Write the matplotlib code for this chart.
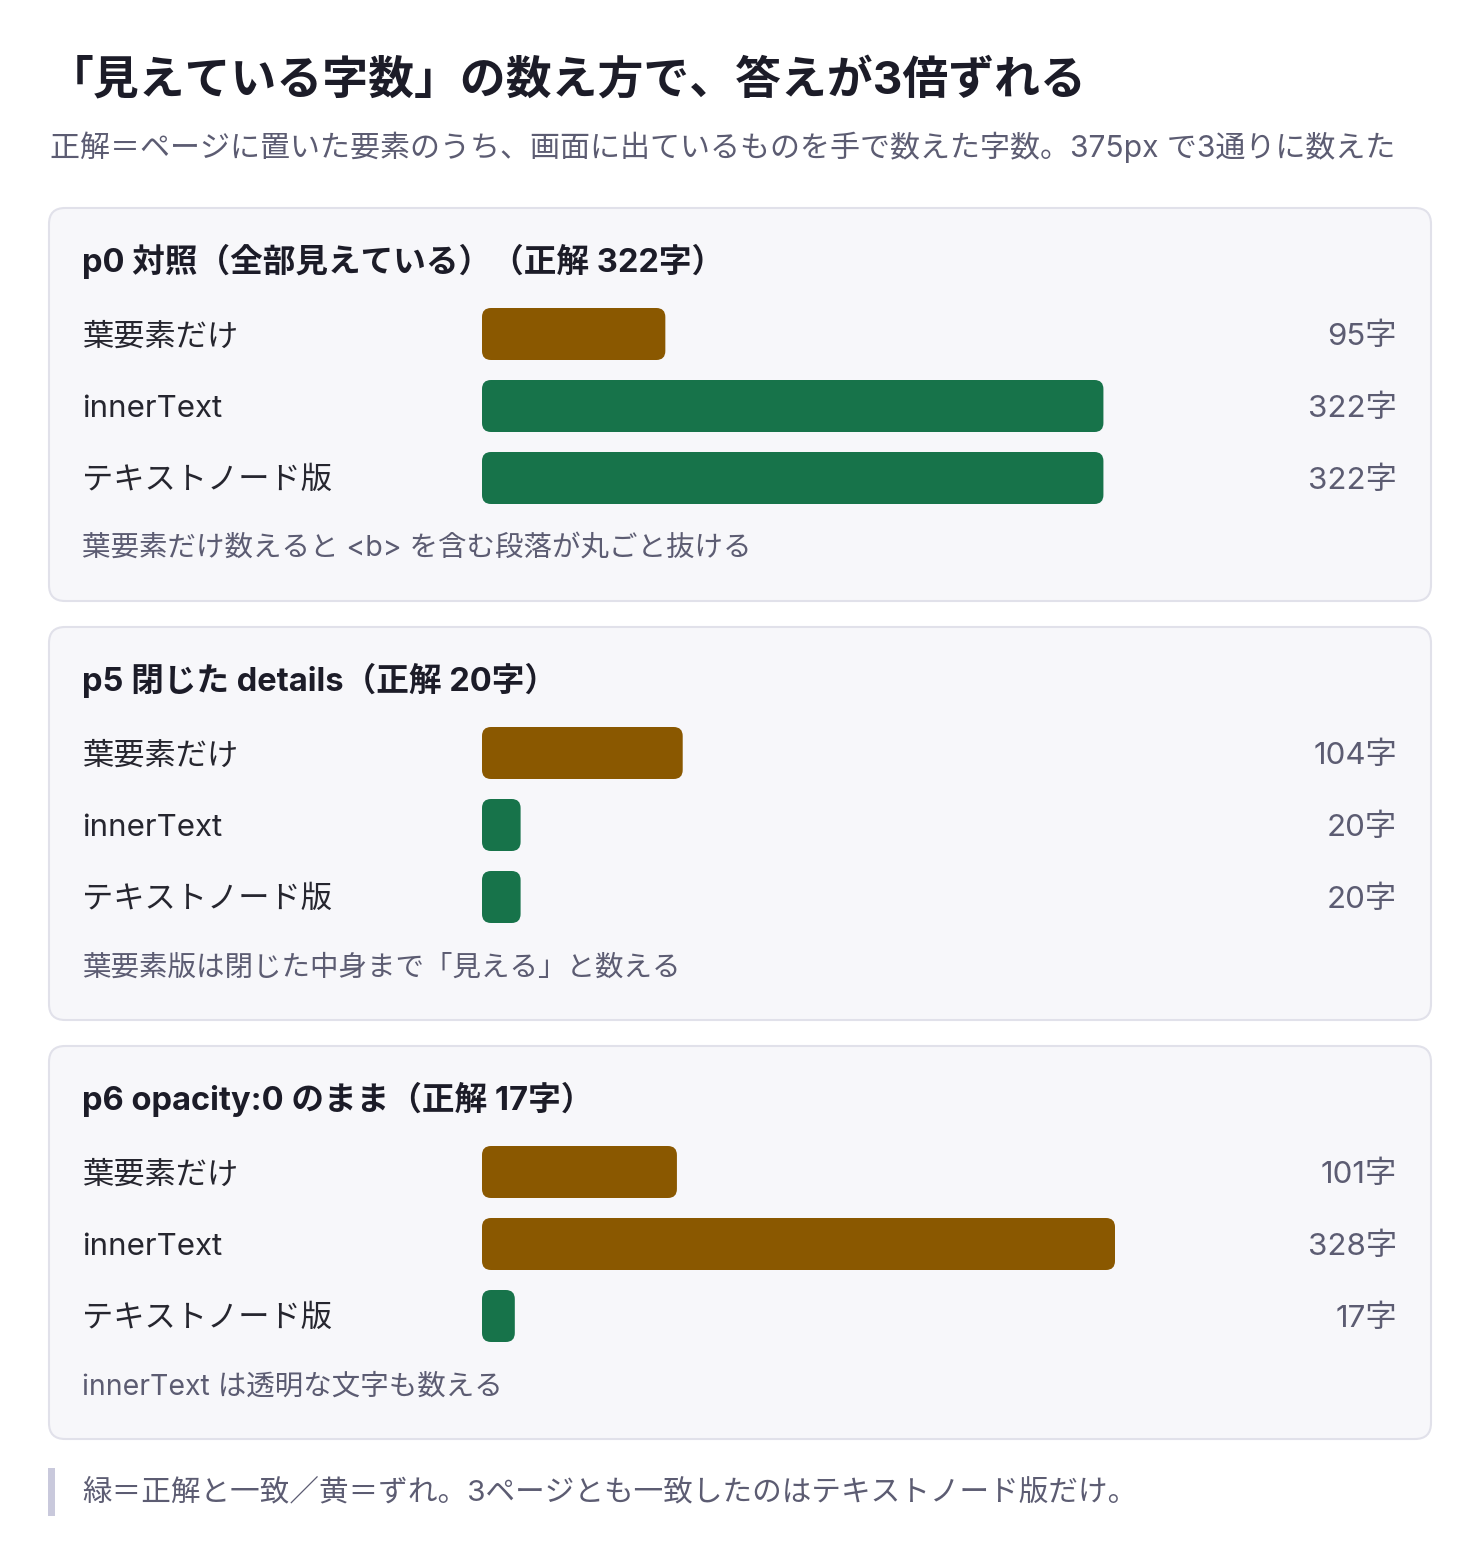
import matplotlib.pyplot as plt
from matplotlib.patches import FancyBboxPatch, Rectangle

plt.rcParams['font.family'] = ['Inter', 'Noto Sans CJK JP', 'DejaVu Sans']

TITLE = '「見えている字数」の数え方で、答えが3倍ずれる'
SUBTITLE = '正解＝ページに置いた要素のうち、画面に出ているものを手で数えた字数。375px で3通りに数えた'
FOOTER = '緑＝正解と一致／黄＝ずれ。3ページとも一致したのはテキストノード版だけ。'

panel_titles = ['p0 対照（全部見えている）（正解 322字）',
                'p5 閉じた details（正解 20字）',
                'p6 opacity:0 のまま（正解 17字）']
methods = ['葉要素だけ', 'innerText', 'テキストノード版']
truth = [322, 20, 17]
counts_p0 = [95, 322, 322]
counts_p5 = [104, 20, 20]
counts_p6 = [101, 328, 17]
notes = ['葉要素だけ数えると <b> を含む段落が丸ごと抜ける',
         '葉要素版は閉じた中身まで「見える」と数える',
         'innerText は透明な文字も数える']

GREEN = '#17734a'
BROWN = '#8a5800'
DARK = '#1c1c28'
GRAY = '#5c5c72'

W, H = 1480, 1564
fig = plt.figure(figsize=(W / 100, H / 100), dpi=100)
fig.patch.set_facecolor('white')
ax = fig.add_axes([0, 0, 1, 1])
ax.set_xlim(0, W)
ax.set_ylim(H, 0)
ax.axis('off')

DY = 3  # small downward nudge so glyphs sit on the row centres

ax.text(48, 78 + DY, TITLE, fontsize=33, fontweight='bold', color=DARK, va='center')
ax.text(50, 147, SUBTITLE, fontsize=21.6, color=GRAY, va='center')

all_counts = [counts_p0, counts_p5, counts_p6]
xmax = max(max(c) for c in all_counts)
bar_left, bar_track = 482, 633      # px
row_gap, bar_h, radius = 72, 52, 9  # px

for i, (ptitle, counts, t, note) in enumerate(zip(panel_titles, all_counts, truth, notes)):
    top = 208 + i * 419
    ax.add_patch(FancyBboxPatch((49, top), 1382, 393,
                                boxstyle='round,pad=0,rounding_size=16',
                                fc='#f7f7fa', ec='#e1e1ea', lw=1.5))
    ax.text(82, top + 53, ptitle, fontsize=23.5, fontweight='bold', color=DARK, va='center')

    row0 = top + 126
    for j, (m, c) in enumerate(zip(methods, counts)):
        y = row0 + j * row_gap + DY
        ax.text(82, y, m, fontsize=22.5, color='#26262f', va='center')
        ax.text(1397, y, f'{c}字', fontsize=22.5, color=GRAY, va='center', ha='right')
    ax.text(82, top + 340 + 1, note, fontsize=20.5, color=GRAY, va='center')

    # bar axes: one data unit on x = bar_track / xmax px, one row = row_gap px
    y_top = row0 - row_gap / 2
    bax = fig.add_axes([bar_left / W, 1 - (y_top + 3 * row_gap) / H,
                        bar_track / W, 3 * row_gap / H])
    bax.set_xlim(0, xmax)
    bax.set_ylim(2.5, -0.5)
    bax.axis('off')
    bax.patch.set_alpha(0)
    px_x = bar_track / xmax
    px_y = row_gap
    r = radius / px_x
    h = bar_h / row_gap
    for j, c in enumerate(counts):
        col = GREEN if c == t else BROWN
        bax.add_patch(FancyBboxPatch((0, j - h / 2), c, h,
                                     boxstyle=f'round,pad=0,rounding_size={r}',
                                     mutation_aspect=px_x / px_y,
                                     fc=col, ec='none'))

ax.add_patch(Rectangle((48, 1468), 7, 48, fc='#c9c9dc', ec='none'))
ax.text(82, 1492 + 1, FOOTER, fontsize=21.3, color=GRAY, va='center')

fig.savefig('out.png', dpi=100, facecolor='white')
